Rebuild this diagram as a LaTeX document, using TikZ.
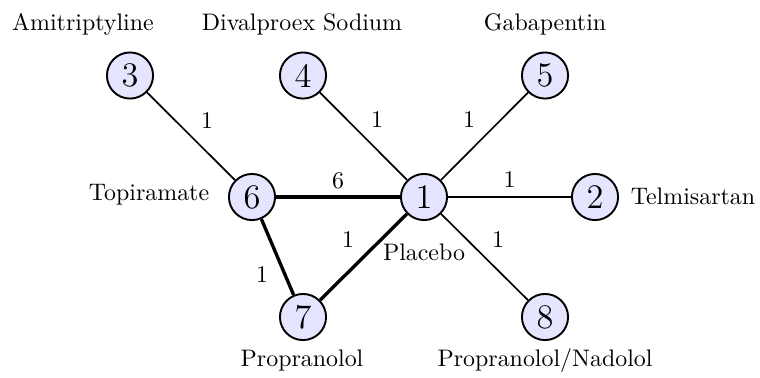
\documentclass[tikz,border=0pt]{standalone}
\begin{document}
\begin{tikzpicture}[x=0.4184pt,y=-0.4184pt,
  trt/.style={circle,draw,fill=blue!10,line width=0.8pt,minimum size=19.3pt,inner sep=0pt,font=\Large},
  txt/.style={inner sep=0pt},
  wt/.style={inner sep=0pt},
  thinedge/.style={line width=0.7pt},
  thickedge/.style={line width=1.4pt}]
\useasboundingbox (0,0) rectangle (760,377);

% treatment nodes
\node[trt] (n1) at (424,197) {1};
\node[trt] (n2) at (595,197) {2};
\node[trt] (n3) at (130,75.5) {3};
\node[trt] (n4) at (303,75.5) {4};
\node[trt] (n5) at (545,75.5) {5};
\node[trt] (n6) at (252,197) {6};
\node[trt] (n7) at (303,317) {7};
\node[trt] (n8) at (545,317) {8};

% treatment names
\node[txt] (t3) at (83,24) {Amitriptyline};
\node[txt] (t4) at (302,24) {Divalproex Sodium};
\node[txt] (t5) at (545,24) {Gabapentin};
\node[txt] (t6) at (149,195) {Topiramate};
\node[txt] (t2) at (693,196) {Telmisartan};
\node[txt] (t1) at (424,252) {Placebo};
\node[txt] (t7) at (302,361) {Propranolol};
\node[txt] (t8) at (545,361) {Propranolol/Nadolol};

% comparisons with number of studies
\draw[thinedge] (n3) -- node[wt,midway,shift={(16,-16)}] {1} (n6);
\draw[thinedge] (n4) -- node[wt,midway,shift={(13.5,-16.5)}] {1} (n1);
\draw[thinedge] (n5) -- node[wt,midway,shift={(-15.5,-16.5)}] {1} (n1);
\draw[thinedge] (n1) -- node[wt,midway,shift={(0,-17)}] {1} (n2);
\draw[thinedge] (n1) -- node[wt,midway,shift={(13.5,-17)}] {1} (n8);
\draw[thickedge] (n6) -- node[wt,midway,shift={(0,-16.5)}] {6} (n1);
\draw[thickedge] (n7) -- node[wt,midway,shift={(-15.5,-17)}] {1} (n1);
\draw[thickedge] (n6) -- node[wt,midway,shift={(-15.5,17.5)}] {1} (n7);
\end{tikzpicture}
\end{document}
